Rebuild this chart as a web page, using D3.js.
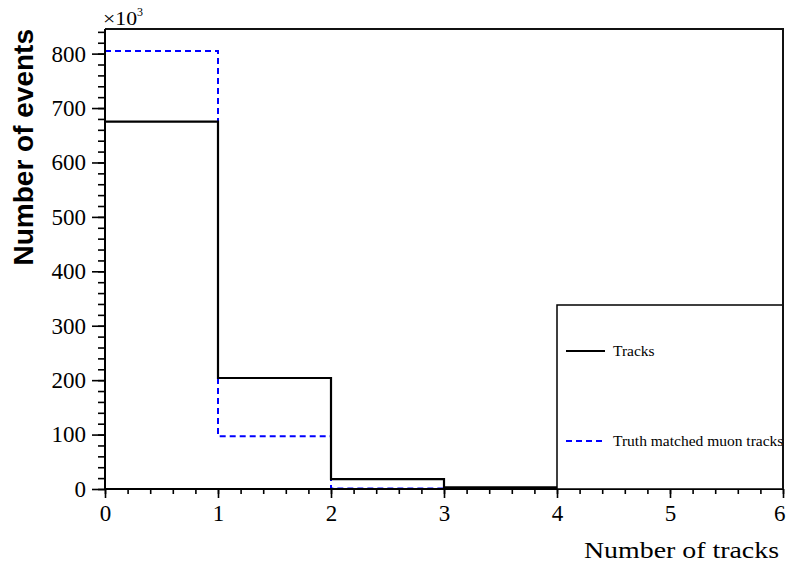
<!DOCTYPE html>
<html>
<head>
<meta charset="utf-8">
<script src="https://cdn.jsdelivr.net/npm/d3@7"></script>
<style>
  html, body { margin: 0; padding: 0; background: #fff; }
  svg { display: block; }
</style>
</head>
<body>
<svg id="chart" width="787" height="568"></svg>
<script>
// Bin edges of the track multiplicity histogram
const binEdges = [0, 1, 2, 3, 4, 5, 6];
// Entries per bin, in units of 10^3 events
const tracksCounts = [675, 204, 18, 3.2, 1.0, 0.4];
const truthCounts = [805, 97, 0.8, 0.1, 0.05, 0.02];
const yTickValues = [0, 100, 200, 300, 400, 500, 600, 700, 800];
const xTickValues = [0, 1, 2, 3, 4, 5, 6];
const legendLabels = ["Tracks", "Truth matched muon tracks"];

const serif = "'Liberation Serif', 'Times New Roman', Times, serif";
const svg = d3.select("#chart");
const frame = { left: 105, right: 783, top: 29, bottom: 489 };

const x = d3.scaleLinear().domain([0, 6]).range([frame.left, frame.right]);
const yMax = d3.max(truthCounts.concat(tracksCounts)) * 1.05;
const y = d3.scaleLinear().domain([0, yMax]).range([frame.bottom, frame.top]);

svg.append("defs").append("clipPath").attr("id", "plotClip")
  .append("rect")
  .attr("x", frame.left).attr("y", frame.top - 2)
  .attr("width", frame.right - frame.left)
  .attr("height", frame.bottom - frame.top + 2);

// Histogram outlines drawn as steps over the bin edges
function stepPoints(counts) {
  const pts = counts.map((v, i) => [binEdges[i], v]);
  pts.push([binEdges[binEdges.length - 1], counts[counts.length - 1]]);
  return pts;
}
const stepLine = d3.line()
  .x(d => x(d[0]))
  .y(d => y(d[1]))
  .curve(d3.curveStepAfter);

const plot = svg.append("g").attr("clip-path", "url(#plotClip)");

plot.append("path")
  .datum(stepPoints(truthCounts))
  .attr("d", stepLine)
  .attr("fill", "none")
  .attr("stroke", "#0000ff")
  .attr("stroke-width", 2)
  .attr("stroke-dasharray", "6,4");

plot.append("path")
  .datum(stepPoints(tracksCounts))
  .attr("d", stepLine)
  .attr("fill", "none")
  .attr("stroke", "#000")
  .attr("stroke-width", 2.2);

// Frame top and right edges
svg.append("path")
  .attr("d", `M${frame.left},${frame.top}H${frame.right}V${frame.bottom}`)
  .attr("fill", "none")
  .attr("stroke", "#111")
  .attr("stroke-width", 2);

// Y axis with minor ticks every 20
const yMinor = d3.range(0, yMax, 20);
const yAxisMinor = d3.axisLeft(y).tickValues(yMinor).tickSize(7).tickFormat("");
const yAxisMajor = d3.axisLeft(y).tickValues(yTickValues).tickSize(13).tickPadding(6)
  .tickFormat(d3.format("d"));

const gyMinor = svg.append("g").attr("transform", `translate(${frame.left},0)`).call(yAxisMinor);
gyMinor.select(".domain").remove();
const gy = svg.append("g").attr("transform", `translate(${frame.left},0)`).call(yAxisMajor);
gy.select(".domain").remove();

// X axis with minor ticks every 0.2
const xMinor = d3.range(0, 6.0001, 0.2);
const xAxisMinor = d3.axisBottom(x).tickValues(xMinor).tickSize(5).tickFormat("");
const xAxisMajor = d3.axisBottom(x).tickValues(xTickValues).tickSize(9).tickPadding(7)
  .tickFormat(d3.format("d"));
const gxMinor = svg.append("g").attr("transform", `translate(0,${frame.bottom})`).call(xAxisMinor);
gxMinor.select(".domain").remove();
const gx = svg.append("g").attr("transform", `translate(0,${frame.bottom})`).call(xAxisMajor);
gx.select(".domain").remove();
// keep the last label inside the canvas
gx.selectAll(".tick text").filter(d => d === 6).attr("text-anchor", "end").attr("x", 2);

svg.selectAll(".tick line").attr("stroke", "#000").attr("stroke-width", 1.6);
svg.selectAll(".tick text")
  .style("font-family", serif)
  .style("font-size", "23px")
  .attr("fill", "#000");

// Axis lines
svg.append("line")
  .attr("x1", frame.left).attr("x2", frame.left)
  .attr("y1", frame.top).attr("y2", frame.bottom)
  .attr("stroke", "#000").attr("stroke-width", 2);
svg.append("line")
  .attr("x1", frame.left - 1).attr("x2", frame.right)
  .attr("y1", frame.bottom).attr("y2", frame.bottom)
  .attr("stroke", "#000").attr("stroke-width", 2);

// Axis exponent
const expo = svg.append("text")
  .attr("x", 103).attr("y", 25)
  .style("font-family", serif)
  .style("font-size", "19px")
  .attr("fill", "#000");
expo.append("tspan").attr("textLength", 34).attr("lengthAdjust", "spacingAndGlyphs").text("×10");
expo.append("tspan").attr("dy", -9).style("font-size", "12px").text("3");

// Axis titles
svg.append("text")
  .attr("transform", `translate(33,${frame.top}) rotate(-90)`)
  .attr("text-anchor", "end")
  .style("font-family", "'Liberation Sans', Arial, sans-serif")
  .style("font-weight", "bold")
  .style("font-size", "28px")
  .attr("fill", "#000")
  .text("Number of events");

svg.append("text")
  .attr("x", 584).attr("y", 558)
  .attr("textLength", 195)
  .attr("lengthAdjust", "spacingAndGlyphs")
  .style("font-family", serif)
  .style("font-size", "24px")
  .attr("fill", "#000")
  .text("Number of tracks");

// Legend
const legend = { x: 557, y: 305, w: frame.right - 557, h: frame.bottom - 305 };
svg.append("defs").append("clipPath").attr("id", "legendClip")
  .append("rect").attr("x", legend.x).attr("y", legend.y)
  .attr("width", legend.w - 1).attr("height", legend.h);

svg.append("rect")
  .attr("x", legend.x).attr("y", legend.y)
  .attr("width", legend.w).attr("height", legend.h)
  .attr("fill", "#fff")
  .attr("stroke", "#000")
  .attr("stroke-width", 1.5);

const legendRows = [
  { label: legendLabels[0], color: "#000", dash: null, yPos: 351 },
  { label: legendLabels[1], color: "#0000ff", dash: "6,4", yPos: 441 }
];
const lg = svg.append("g").attr("clip-path", "url(#legendClip)");
legendRows.forEach(r => {
  lg.append("line")
    .attr("x1", 566).attr("x2", 605)
    .attr("y1", r.yPos).attr("y2", r.yPos)
    .attr("stroke", r.color)
    .attr("stroke-width", 2)
    .attr("stroke-dasharray", r.dash);
  lg.append("text")
    .attr("x", 613).attr("y", r.yPos + 5)
    .style("font-family", serif)
    .style("font-size", "15.5px")
    .attr("fill", "#000")
    .text(r.label);
});
// Redraw the frame edge over the legend
svg.append("line")
  .attr("x1", frame.right).attr("x2", frame.right)
  .attr("y1", frame.top).attr("y2", frame.bottom)
  .attr("stroke", "#111").attr("stroke-width", 2);
</script>
</body>
</html>
